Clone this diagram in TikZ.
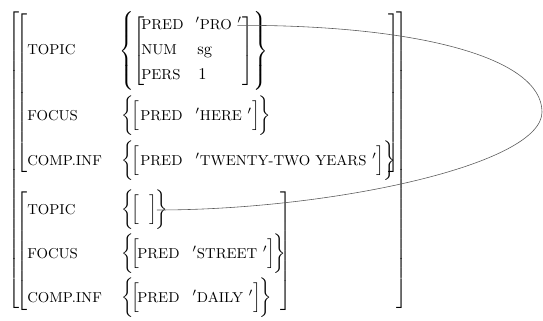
\documentclass[tikz,border=0pt]{standalone}
\usepackage{tikz}
\usetikzlibrary{positioning}
\tikzset{
  attr/.style={anchor=west, inner sep=0pt, text height=1.6ex, text depth=0.3ex, font=\fontsize{8.7pt}{10pt}\selectfont},
  val/.style={anchor=west, inner sep=0pt, text height=1.6ex, text depth=0.3ex},
  delim/.style={inner sep=0pt, outer sep=0pt},
  link/.style={draw=black!65, line width=0.35pt}
}
\newcommand{\fsopen}[2]{$\nulldelimiterspace=0pt\delimitershortfall=0pt\delimiterfactor=1000\left#1\vcenter{\hbox{\rule{0pt}{#2}}}\right.$}
\newcommand{\fsclose}[2]{$\nulldelimiterspace=0pt\delimitershortfall=0pt\delimiterfactor=1000\left.\vcenter{\hbox{\rule{0pt}{#2}}}\right#1$}
\newcommand{\fsem}[1]{$'${\fontsize{8.7pt}{10pt}\selectfont#1}\ $'$}

\begin{document}
\begin{tikzpicture}[x=0.0213cm, y=-0.0213cm]
  \useasboundingbox (0,0) rectangle (543,320);
  % outer f-structure
  \node[delim, anchor=west] (outl) at (8,160) {\fsopen[{177pt}};
  \node[delim, anchor=east] (outr) at (407,160) {\fsclose]{177pt}};
  % first part
  \node[delim, anchor=west] (al) at (16,93) {\fsopen[{96pt}};
  \node[delim, anchor=east] (ar) at (399,93) {\fsclose]{96pt}};
  \node[attr] (atopic) at (27,50) {TOPIC};
  \node[delim, anchor=west] (atb) at (119,51) {\fsopen\{{44pt}};
  \node[delim, right=0pt of atb] (atk) {\fsopen[{42pt}};
  \node[attr] (apred) at (141,25.3) {PRED};
  \node[val] (pro) at (195,25.3) {\fsem{PRO}};
  \node[attr] (anum) at (141,50) {NUM};
  \node[val] (sg) at (197,50) {sg};
  \node[attr] (apers) at (141,75.3) {PERS};
  \node[val] (one) at (198,75.3) {1};
  \node[delim, anchor=west] (atkr) at (pro.east |- atk.west) {\fsclose]{42pt}};
  \node[delim, right=0pt of atkr] (atbr) {\fsclose\}{44pt}};
  \node[attr] (afocus) at (27,116) {FOCUS};
  \node[delim, anchor=west] (afb) at (121,116) {\fsopen\{{22pt}};
  \node[delim, right=-1pt of afb] (afk) {\fsopen[{17pt}};
  \node[attr] (afpred) at (140,116) {PRED};
  \node[val] (here) at (195,116) {\fsem{HERE}};
  \node[delim, right=0pt of here] (afkr) {\fsclose]{17pt}};
  \node[delim, right=-1pt of afkr] (afbr) {\fsclose\}{22pt}};
  \node[attr] (acomp) at (27,160.5) {COMP.INF};
  \node[delim, anchor=west] (acb) at (121,160.5) {\fsopen\{{22pt}};
  \node[delim, right=-1pt of acb] (ack) {\fsopen[{17pt}};
  \node[attr] (acpred) at (140,160.5) {PRED};
  \node[val] (years) at (195,160.5) {\fsem{TWENTY-TWO YEARS}};
  \node[delim, right=0pt of years] (ackr) {\fsclose]{17pt}};
  \node[delim, right=-1pt of ackr] (acbr) {\fsclose\}{22pt}};
  % second part
  \node[delim, anchor=west] (bl) at (16,251.5) {\fsopen[{68pt}};
  \node[delim, anchor=east] (br) at (291,251.5) {\fsclose]{68pt}};
  \node[attr] (btopic) at (27,210) {TOPIC};
  \node[delim, anchor=west] (btb) at (121,210) {\fsopen\{{22pt}};
  \node[delim, right=-1pt of btb] (btk) {\fsopen[{17pt}};
  \node[delim, right=5.8pt of btk] (btkr) {\fsclose]{17pt}};
  \node[delim, right=-1pt of btkr] (btbr) {\fsclose\}{22pt}};
  \node[attr] (bfocus) at (27,254) {FOCUS};
  \node[delim, anchor=west] (bfb) at (121,254) {\fsopen\{{22pt}};
  \node[delim, right=-1pt of bfb] (bfk) {\fsopen[{17pt}};
  \node[attr] (bfpred) at (137,254) {PRED};
  \node[val] (street) at (192,254) {\fsem{STREET}};
  \node[delim, right=0pt of street] (bfkr) {\fsclose]{17pt}};
  \node[delim, right=-1pt of bfkr] (bfbr) {\fsclose\}{22pt}};
  \node[attr] (bcomp) at (27,298) {COMP.INF};
  \node[delim, anchor=west] (bcb) at (121,298) {\fsopen\{{22pt}};
  \node[delim, right=-1pt of bcb] (bck) {\fsopen[{17pt}};
  \node[attr] (bcpred) at (137,298) {PRED};
  \node[val] (daily) at (192,298) {\fsem{DAILY}};
  \node[delim, right=0pt of daily] (bckr) {\fsclose]{17pt}};
  \node[delim, right=-1pt of bckr] (bcbr) {\fsclose\}{22pt}};
  % structure sharing
  \draw[link] ([xshift=-3pt]pro.east) .. controls (420,25) and (542,58) .. (542,112)
    .. controls (542,165) and (330,210) .. (btkr.east);
\end{tikzpicture}
\end{document}
